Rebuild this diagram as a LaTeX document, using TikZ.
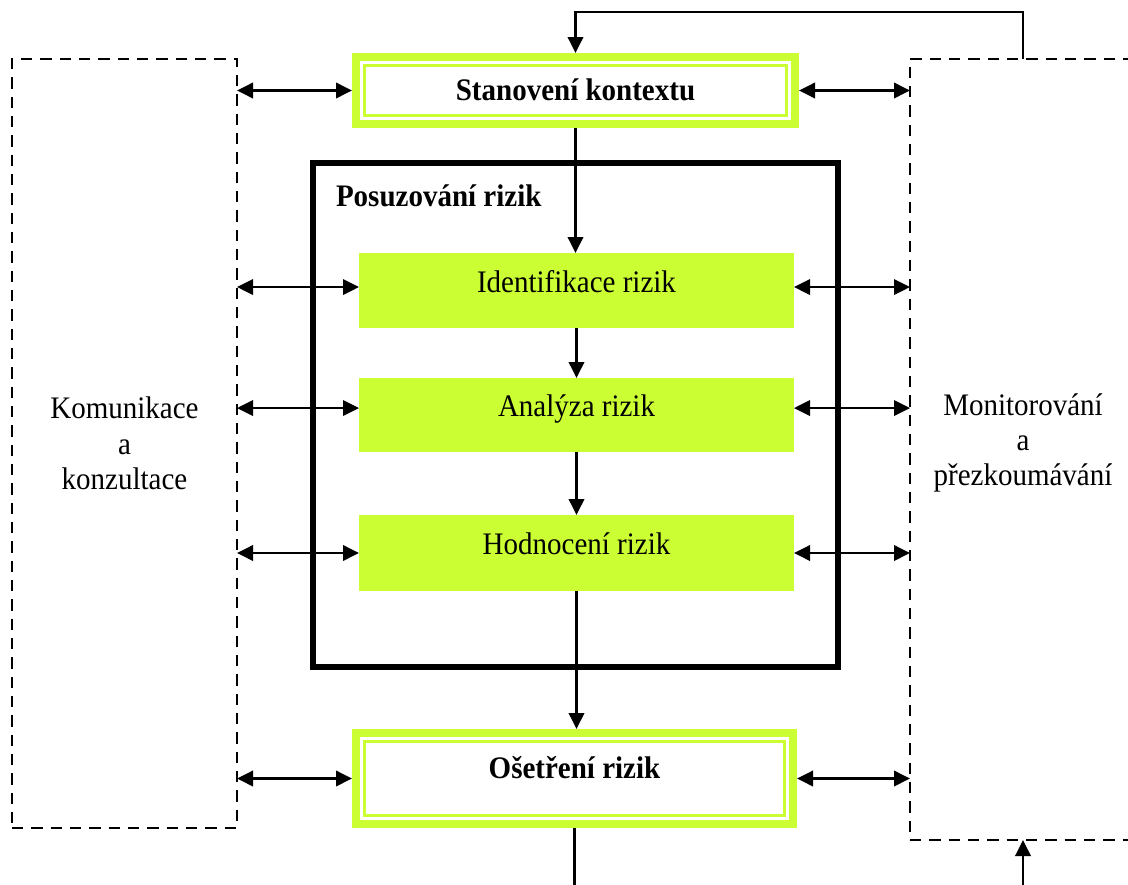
\documentclass[tikz,border=0pt]{standalone}
\usepackage{fontspec}
\usepackage{graphicx}
\setmainfont{Liberation Serif}
\usetikzlibrary{arrows.meta}
\definecolor{limeg}{RGB}{204,255,51}
\newcommand{\vstr}[1]{\scalebox{1}[1.08]{#1}}
\begin{document}
\begin{tikzpicture}[x=0.75pt,y=-0.75pt,
  every node/.style={font=\fontsize{21.75}{26.5}\selectfont, inner sep=0pt, outer sep=0pt},
  ar/.style={line width=1.9pt, -{Triangle[length=12pt,width=11.5pt]}},
  dar/.style={line width=1.9pt, {Triangle[length=12pt,width=11.5pt]}-{Triangle[length=12pt,width=11.5pt]}},
  ln/.style={line width=1.9pt},
  dbox/.style={draw, line width=2pt, dash pattern=on 8.5pt off 6pt, align=center},
  gbox/.style={fill=limeg, minimum width=326.25pt, text height=14.4pt, text depth=12pt},
  frame/.style={fill=limeg, font=\fontsize{21.75}{26}\selectfont\bfseries,
    path picture={
      \fill[white] ([shift={(6pt,6pt)}]path picture bounding box.south west) rectangle ([shift={(-6pt,-6pt)}]path picture bounding box.north east);
      \draw[limeg, line width=2pt] ([shift={(9.4pt,9.4pt)}]path picture bounding box.south west) rectangle ([shift={(-9.4pt,-9.4pt)}]path picture bounding box.north east);
    }},
  bigbox/.style={draw, line width=4.5pt}
]
\useasboundingbox (0,0) rectangle (1128,885);

% assessment frame
\node[bigbox, minimum width=393.75pt, minimum height=378pt] (posuz) at (575.5,415) {};
\node[anchor=west, font=\fontsize{21.75}{26}\selectfont\bfseries] (posl) at (336,196) {\vstr{Posuzování rizik}};

% side boxes
\node[dbox, minimum width=168.75pt, minimum height=576.75pt] (kom) at (124.5,443.5) {\vstr{Komunikace}\\\vstr{a}\\\vstr{konzultace}};
\node[dbox, minimum width=175.5pt, minimum height=585.75pt] (mon) at (1027,449.5) {};
\node[align=center] (montext) at (1023,443) {\vstr{Monitorování}\\\vstr{a}\\\vstr{přezkoumávání}};
\coordinate (monN) at (1023,59);
\coordinate (monS) at (1023,840);

% main boxes
\node[frame, minimum width=335.25pt, minimum height=56.25pt, text height=14.4pt, text depth=0pt] (ctx) at (575.5,90.5) {\vstr{Stanovení kontextu}};
\node[frame, minimum width=333.75pt, minimum height=74.25pt, text height=14.4pt, text depth=15pt] (ose) at (574.5,778.5) {\vstr{Ošetření rizik}};
\node[gbox, minimum height=56.25pt] (ide) at (576.5,290.5) {\vstr{Identifikace rizik}};
\node[gbox, minimum height=55.5pt] (ana) at (576.5,415) {\vstr{Analýza rizik}};
\node[gbox, minimum height=57pt] (hod) at (576.5,553) {\vstr{Hodnocení rizik}};

% vertical flow
\draw[ar] (monN) -- ++(0,-47) -| (ctx.north);
\draw[ar] (ctx.south) -- (ctx.south |- ide.north);
\draw[ar] (ide.south) -- (ana.north);
\draw[ar] (ana.south) -- (hod.north);
\draw[ar] (hod.south) -- (hod.south |- ose.north);
\coordinate (b1) at (574.5,885);
\coordinate (b2) at (1023,885);
\draw[ln] (ose.south) -- (b1);
\draw[ar] (b2) -- (monS);

% side connectors
\coordinate (ideL) at ([yshift=2.6pt]ide.west);
\coordinate (ideR) at ([yshift=2.6pt]ide.east);
\coordinate (anaL) at ([yshift=5.2pt]ana.west);
\coordinate (anaR) at ([yshift=5.2pt]ana.east);
\draw[dar] (kom.east |- ctx.west) -- (ctx.west);
\draw[dar] (ctx.east) -- (ctx.east -| mon.west);
\draw[dar] (kom.east |- ideL) -- (ideL);
\draw[dar] (ideR) -- (ideR -| mon.west);
\draw[dar] (kom.east |- anaL) -- (anaL);
\draw[dar] (anaR) -- (anaR -| mon.west);
\draw[dar] (kom.east |- hod.west) -- (hod.west);
\draw[dar] (hod.east) -- (hod.east -| mon.west);
\draw[dar] (kom.east |- ose.west) -- (ose.west);
\draw[dar] (ose.east) -- (ose.east -| mon.west);
\end{tikzpicture}
\end{document}
